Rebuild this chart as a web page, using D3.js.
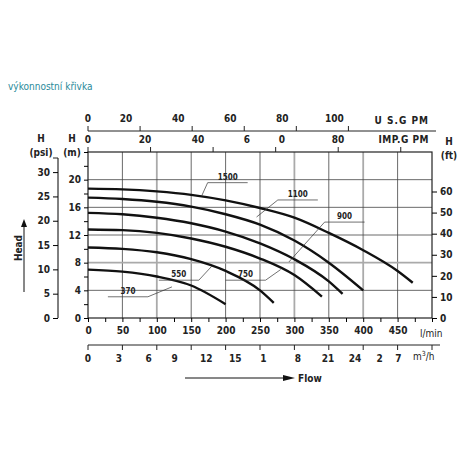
<!DOCTYPE html><html><head><meta charset="utf-8">
<script src="https://cdn.jsdelivr.net/npm/d3@7"></script>
<style>body{margin:0;background:#fff}text{font-family:"DejaVu Sans Condensed","DejaVu Sans",sans-serif;font-weight:bold;fill:#222}</style></head><body>
<svg id="c" width="460" height="460"></svg>
<script>
const curveNames=["1500","1100","900","750","550","370"];
const curveData=[
 [[0,18.7],[50,18.6],[100,18.3],[150,17.8],[200,17.0],[250,15.9],[300,14.5],[350,12.3],[400,9.8],[450,6.8],[472,5.1]],
 [[0,17.4],[50,17.2],[100,16.8],[150,16.1],[200,15.0],[250,13.5],[300,11.2],[350,8.0],[400,4.0]],
 [[0,15.2],[50,15.0],[100,14.5],[150,13.7],[200,12.5],[250,10.8],[300,8.5],[350,5.3],[370,3.5]],
 [[0,12.8],[50,12.7],[100,12.3],[150,11.5],[200,10.3],[250,8.6],[300,6.2],[340,3.1]],
 [[0,10.2],[50,10.0],[100,9.5],[150,8.5],[200,6.8],[250,4.0],[270,2.2]],
 [[0,7.0],[50,6.7],[100,6.0],[150,4.7],[200,2.0]]];
const labelPos=[[203,20.0,165,17.6],[305,17.5,245,14.6],[373,14.3,292,8.1],[229,5.9,280,7.0],[132,5.9,180,7.5],[58,3.5,122,4.5]];
const lminTicks=[0,50,100,150,200,250,300,350,400,450];
const mTicks=[0,4,8,12,16,20];
const psiTicks=[0,5,10,15,20,25,30];
const ftTicks=[0,10,20,30,40,50,60];
const usTicks=[0,20,40,60,80,100];
const impTicks=[0,20,40,60,80,100];
const impLabels=["0","20","40","6","0","80"];
const m3Labels=[["0",0],["3",45],["6",88],["9",126],["12",172],["15",214],["1",255],["8",305],["21",349],["24",388],["2",424],["7",451]];

const svg=d3.select("#c");
const x=d3.scaleLinear().domain([0,500]).range([88,432]);
const y=d3.scaleLinear().domain([0,24]).range([318,152]);
svg.append("text").attr("x",8).attr("y",90).style("font-weight","normal").style("fill","#2a8a9a").attr("font-size",10).text("výkonnostní křivka");
const g=svg.append("g");
[100,250,300,400].forEach(v=>g.append("line").attr("x1",x(v)).attr("x2",x(v)).attr("y1",y(24)).attr("y2",y(0)).attr("stroke","#aaa").attr("stroke-width",1.8));
[50,150,200,350,450].forEach(v=>g.append("line").attr("x1",x(v)).attr("x2",x(v)).attr("y1",y(24)).attr("y2",y(0)).attr("stroke","#444").attr("stroke-width",0.8));
mTicks.slice(1).forEach(v=>g.append("line").attr("x1",x(0)).attr("x2",x(500)).attr("y1",y(v)).attr("y2",y(v)).attr("stroke",v==8?"#aaa":"#444").attr("stroke-width",v==8?1.8:0.8));
g.append("rect").attr("x",x(0)).attr("y",y(24)).attr("width",x(500)-x(0)).attr("height",y(0)-y(24)).attr("fill","none").attr("stroke","#222").attr("stroke-width",1.2);
const line=d3.line().x(d=>x(d[0])).y(d=>y(d[1])).curve(d3.curveMonotoneX);
curveData.forEach(c=>g.append("path").attr("d",line(c)).attr("fill","none").attr("stroke","#111").attr("stroke-width",2.4));
curveNames.forEach((n,i)=>{const p=labelPos[i];const tx=x(p[0]),ty=y(p[1]);
 g.append("text").attr("x",tx).attr("y",ty).attr("text-anchor","middle").attr("font-size",8).text(n);
 g.append("line").attr("x1",tx-20).attr("x2",tx+20).attr("y1",ty+3).attr("y2",ty+3).attr("stroke","#333").attr("stroke-width",0.7);
 const lx=(x(p[2])>tx)?tx+20:tx-20;
 g.append("line").attr("x1",lx).attr("y1",ty+3).attr("x2",x(p[2])).attr("y2",y(p[3])).attr("stroke","#333").attr("stroke-width",0.7);});
const bx=d3.axisBottom(x).tickValues(d3.range(0,501,25)).tickSize(4).tickFormat(d=>lminTicks.includes(d)?d:"");
svg.append("g").attr("transform","translate(0,318)").call(bx).call(a=>{a.select(".domain").remove();a.selectAll("text").attr("font-size",10).attr("dy","0.9em")});
svg.append("text").attr("x",420).attr("y",337).attr("font-size",10).style("font-weight","normal").text("l/min");
svg.append("line").attr("x1",88).attr("x2",440).attr("y1",345).attr("y2",345).attr("stroke","#222");
lminTicks.concat([500]).forEach(v=>svg.append("line").attr("x1",x(v)).attr("x2",x(v)).attr("y1",345).attr("y2",350).attr("stroke","#222"));
m3Labels.forEach(d=>svg.append("text").attr("x",x(d[1])).attr("y",362).attr("text-anchor","middle").attr("font-size",10).text(d[0]));
svg.append("text").attr("x",413).attr("y",360).attr("font-size",10).style("font-weight","normal").html("m<tspan dy='-4' font-size='7'>3</tspan><tspan dy='4'>/h</tspan>");
svg.append("line").attr("x1",185).attr("x2",285).attr("y1",378).attr("y2",378).attr("stroke","#111");
svg.append("path").attr("d","M283,375L295,378L283,381Z").attr("fill","#111");
svg.append("text").attr("x",298).attr("y",382).attr("font-size",10).text("Flow");
const xus=v=>x(v*3.785), ximp=v=>x(v*4.546);
svg.append("line").attr("x1",88).attr("x2",436).attr("y1",131).attr("y2",131).attr("stroke","#222");
usTicks.forEach(v=>{svg.append("line").attr("x1",xus(v)).attr("x2",xus(v)).attr("y1",126).attr("y2",131).attr("stroke","#222");
 svg.append("text").attr("x",xus(v)-(v?14:0)).attr("y",122).attr("text-anchor","middle").attr("font-size",10).text(v);});
svg.append("text").attr("x",429).attr("y",124).attr("text-anchor","end").attr("font-size",10).attr("letter-spacing",1).text("U S.G PM");
impTicks.forEach((v,i)=>{svg.append("line").attr("x1",ximp(v)).attr("x2",ximp(v)).attr("y1",147).attr("y2",152).attr("stroke","#222");
 const lx=[88,145,198,247,282,338][i]; svg.append("text").attr("x",lx).attr("y",143).attr("text-anchor","middle").attr("font-size",10).text(impLabels[i]);});
svg.append("text").attr("x",429).attr("y",143).attr("text-anchor","end").attr("font-size",10).attr("letter-spacing",0.5).text("IMP.G PM");
svg.append("g").attr("transform","translate(88,0)").call(d3.axisLeft(y).tickValues(d3.range(0,25,2)).tickSize(4).tickFormat(d=>mTicks.includes(d)?d:"")).call(a=>{a.select(".domain").remove();a.selectAll("text").attr("font-size",10)});
const yp=d3.scaleLinear().domain([0,34]).range([y(0),y(34*0.7031)]);
svg.append("g").attr("transform","translate(58,0)").call(d3.axisRight(yp).tickValues(psiTicks).tickSize(-5)).call(a=>{a.select(".domain").attr("d",`M0,${y(0)}V158`);a.selectAll("text").attr("font-size",10).attr("x",-8).attr("text-anchor","end")});
svg.append("line").attr("x1",58).attr("x2",53).attr("y1",158).attr("y2",158).attr("stroke","#222");
svg.append("g").attr("transform","translate(432,0)").call(d3.axisRight(y.copy().domain([0,24/0.3048])).tickValues(ftTicks).tickSize(5)).call(a=>{a.select(".domain").remove();a.selectAll("text").attr("font-size",10)});
[["H",41,142],["(psi)",41,156],["H",72,142],["(m)",72,156],["H",449,145],["(ft)",449,159]].forEach(d=>svg.append("text").attr("x",d[1]).attr("y",d[2]).attr("text-anchor","middle").attr("font-size",10).text(d[0]));
svg.append("text").attr("transform","translate(22,248) rotate(-90)").attr("text-anchor","middle").attr("font-size",10).text("Head");
svg.append("line").attr("x1",24).attr("x2",24).attr("y1",292).attr("y2",225).attr("stroke","#111");
svg.append("path").attr("d","M21,227L24,219L27,227Z").attr("fill","#111");
</script></body></html>
